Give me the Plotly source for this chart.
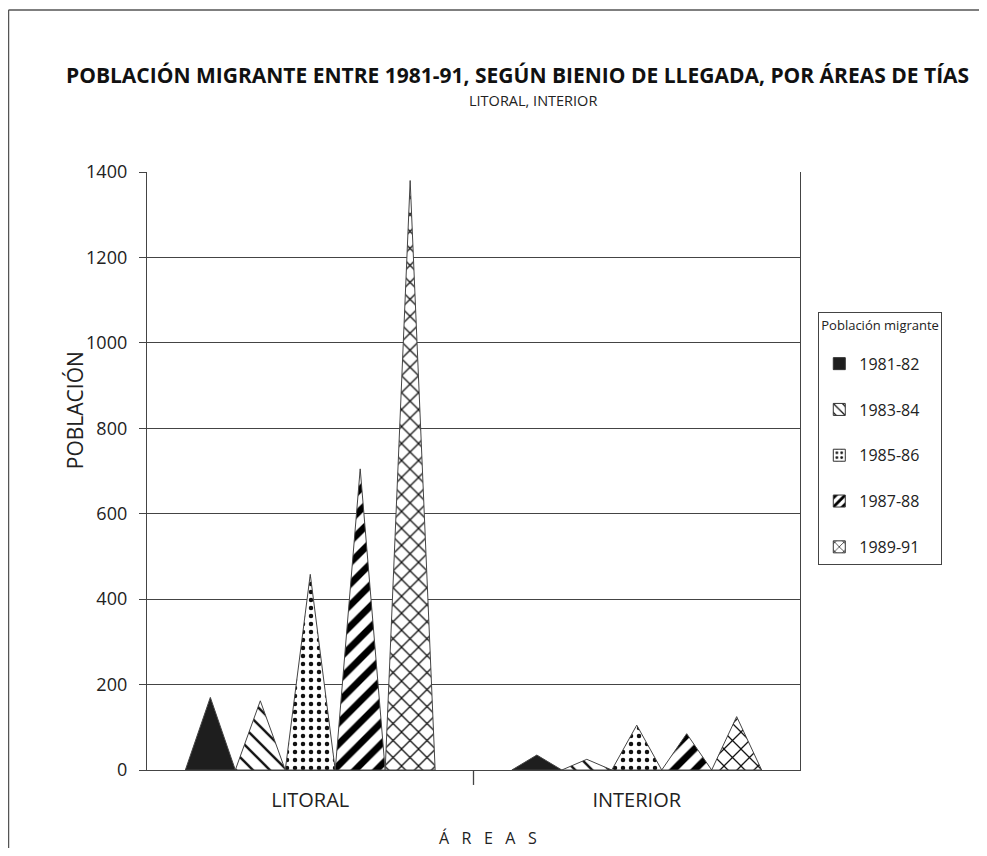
import plotly.graph_objects as go

categories = ["LITORAL", "INTERIOR"]
series_names = ["1981-82", "1983-84", "1985-86", "1987-88", "1989-91"]
litoral = [170, 162, 458, 705, 1380]
interior = [35, 25, 105, 85, 125]
y_ticks = [0, 200, 400, 600, 800, 1000, 1200, 1400]

patterns = [
    None,
    dict(shape="\\", fgcolor="#111", bgcolor="white", size=12, solidity=0.2, fgopacity=1),
    dict(shape=".", fgcolor="#111", bgcolor="white", size=8, solidity=0.25, fgopacity=1),
    dict(shape="/", fgcolor="#000", bgcolor="white", size=15, solidity=0.45, fgopacity=1),
    dict(shape="x", fgcolor="#111", bgcolor="white", size=12, solidity=0.2, fgopacity=1),
]
legend_sizes = [0, 8, 6, 8, 8]
fills = ["#1e1e1e", "white", "white", "white", "white"]

FONT = "Open Sans"
width = 0.153
fig = go.Figure()
values_by_cat = [litoral, interior]
for i, name in enumerate(series_names):
    xs, ys = [], []
    off = (i - 2) * width
    for ci, vals in enumerate(values_by_cat):
        cx = ci + off
        xs += [cx - width / 2, cx, cx + width / 2, cx - width / 2, None]
        ys += [0, vals[i], 0, 0, None]
    tr = dict(
        x=xs, y=ys, mode="lines", fill="toself", name=name,
        line=dict(color="#444", width=1),
        fillcolor=fills[i], legendgroup=name, showlegend=False,
        hoverinfo="skip",
    )
    if patterns[i]:
        tr["fillpattern"] = patterns[i]
    fig.add_trace(go.Scatter(**tr))

# legend entries (square pattern swatches)
for i, name in enumerate(series_names):
    mk = dict(color=fills[i], line=dict(color="#333", width=1))
    if patterns[i]:
        p = dict(patterns[i])
        p["size"] = legend_sizes[i]
        mk["pattern"] = p
    fig.add_trace(go.Bar(x=[None], y=[None], name=name, legendgroup=name,
                         marker=mk, showlegend=True, hoverinfo="skip"))

# category separator tick
fig.add_shape(type="line", xref="x", yref="paper", x0=0.5, x1=0.5, y0=0, y1=-0.025,
              line=dict(color="#444", width=1.3))
# outer frame (top and left edges)
fig.add_shape(type="line", xref="paper", yref="paper", x0=-0.2121, x1=1.3, y0=1.271, y1=1.271,
              line=dict(color="#555", width=1.5))
fig.add_shape(type="line", xref="paper", yref="paper", x0=-0.2121, x1=-0.2121, y0=1.271, y1=-0.14,
              line=dict(color="#555", width=1.5))

fig.add_annotation(text="<b>POBLACIÓN MIGRANTE ENTRE 1981-91, SEGÚN BIENIO DE LLEGADA, POR ÁREAS DE TÍAS</b>",
                   xref="paper", yref="paper", x=0.568, y=1.162, showarrow=False,
                   xanchor="center", yanchor="middle", font=dict(size=21, family=FONT, color="#111"))
fig.add_annotation(text="LITORAL, INTERIOR",
                   xref="paper", yref="paper", x=0.591, y=1.120, showarrow=False,
                   xanchor="center", yanchor="middle", font=dict(size=14.5, family=FONT, color="#222"))
fig.add_annotation(text="POBLACIÓN", textangle=-90,
                   xref="paper", yref="paper", x=-0.110, y=0.602, showarrow=False,
                   xanchor="center", yanchor="middle", font=dict(size=21, family=FONT, color="#222"))
fig.add_annotation(text="Á   R   E   A   S",
                   xref="paper", yref="paper", x=0.522, y=-0.113, showarrow=False,
                   xanchor="center", yanchor="middle", font=dict(size=16, family=FONT, color="#222"))

fig.update_layout(
    width=971, height=840,
    margin=dict(l=139, r=179, t=164, b=78),
    paper_bgcolor="white", plot_bgcolor="white",
    font=dict(family=FONT, color="#222"),
    showlegend=True,
    barmode="overlay",
    legend=dict(
        x=1.028, xanchor="left", y=0.766, yanchor="top",
        bordercolor="#444", borderwidth=1,
        title=dict(text="Población migrante<br> ", font=dict(size=13)),
        font=dict(size=16), tracegroupgap=22,
        itemwidth=30, traceorder="grouped",
    ),
    xaxis=dict(
        range=[-0.5, 1.5], tickmode="array", tickvals=[0, 1], ticktext=categories,
        ticks="", showgrid=False, zeroline=False,
        showline=True, linecolor="#444", linewidth=1.3, mirror=False,
        tickfont=dict(size=20), ticklabelstandoff=12,
    ),
    yaxis=dict(
        range=[0, 1400], tickmode="array", tickvals=y_ticks,
        ticks="outside", ticklen=7, tickcolor="#444",
        showgrid=True, gridcolor="#444", gridwidth=1.3,
        showline=True, linecolor="#444", linewidth=1.3, mirror=True,
        zeroline=False, tickfont=dict(size=18), ticklabelstandoff=8,
    ),
)

fig.write_html("out.html")
